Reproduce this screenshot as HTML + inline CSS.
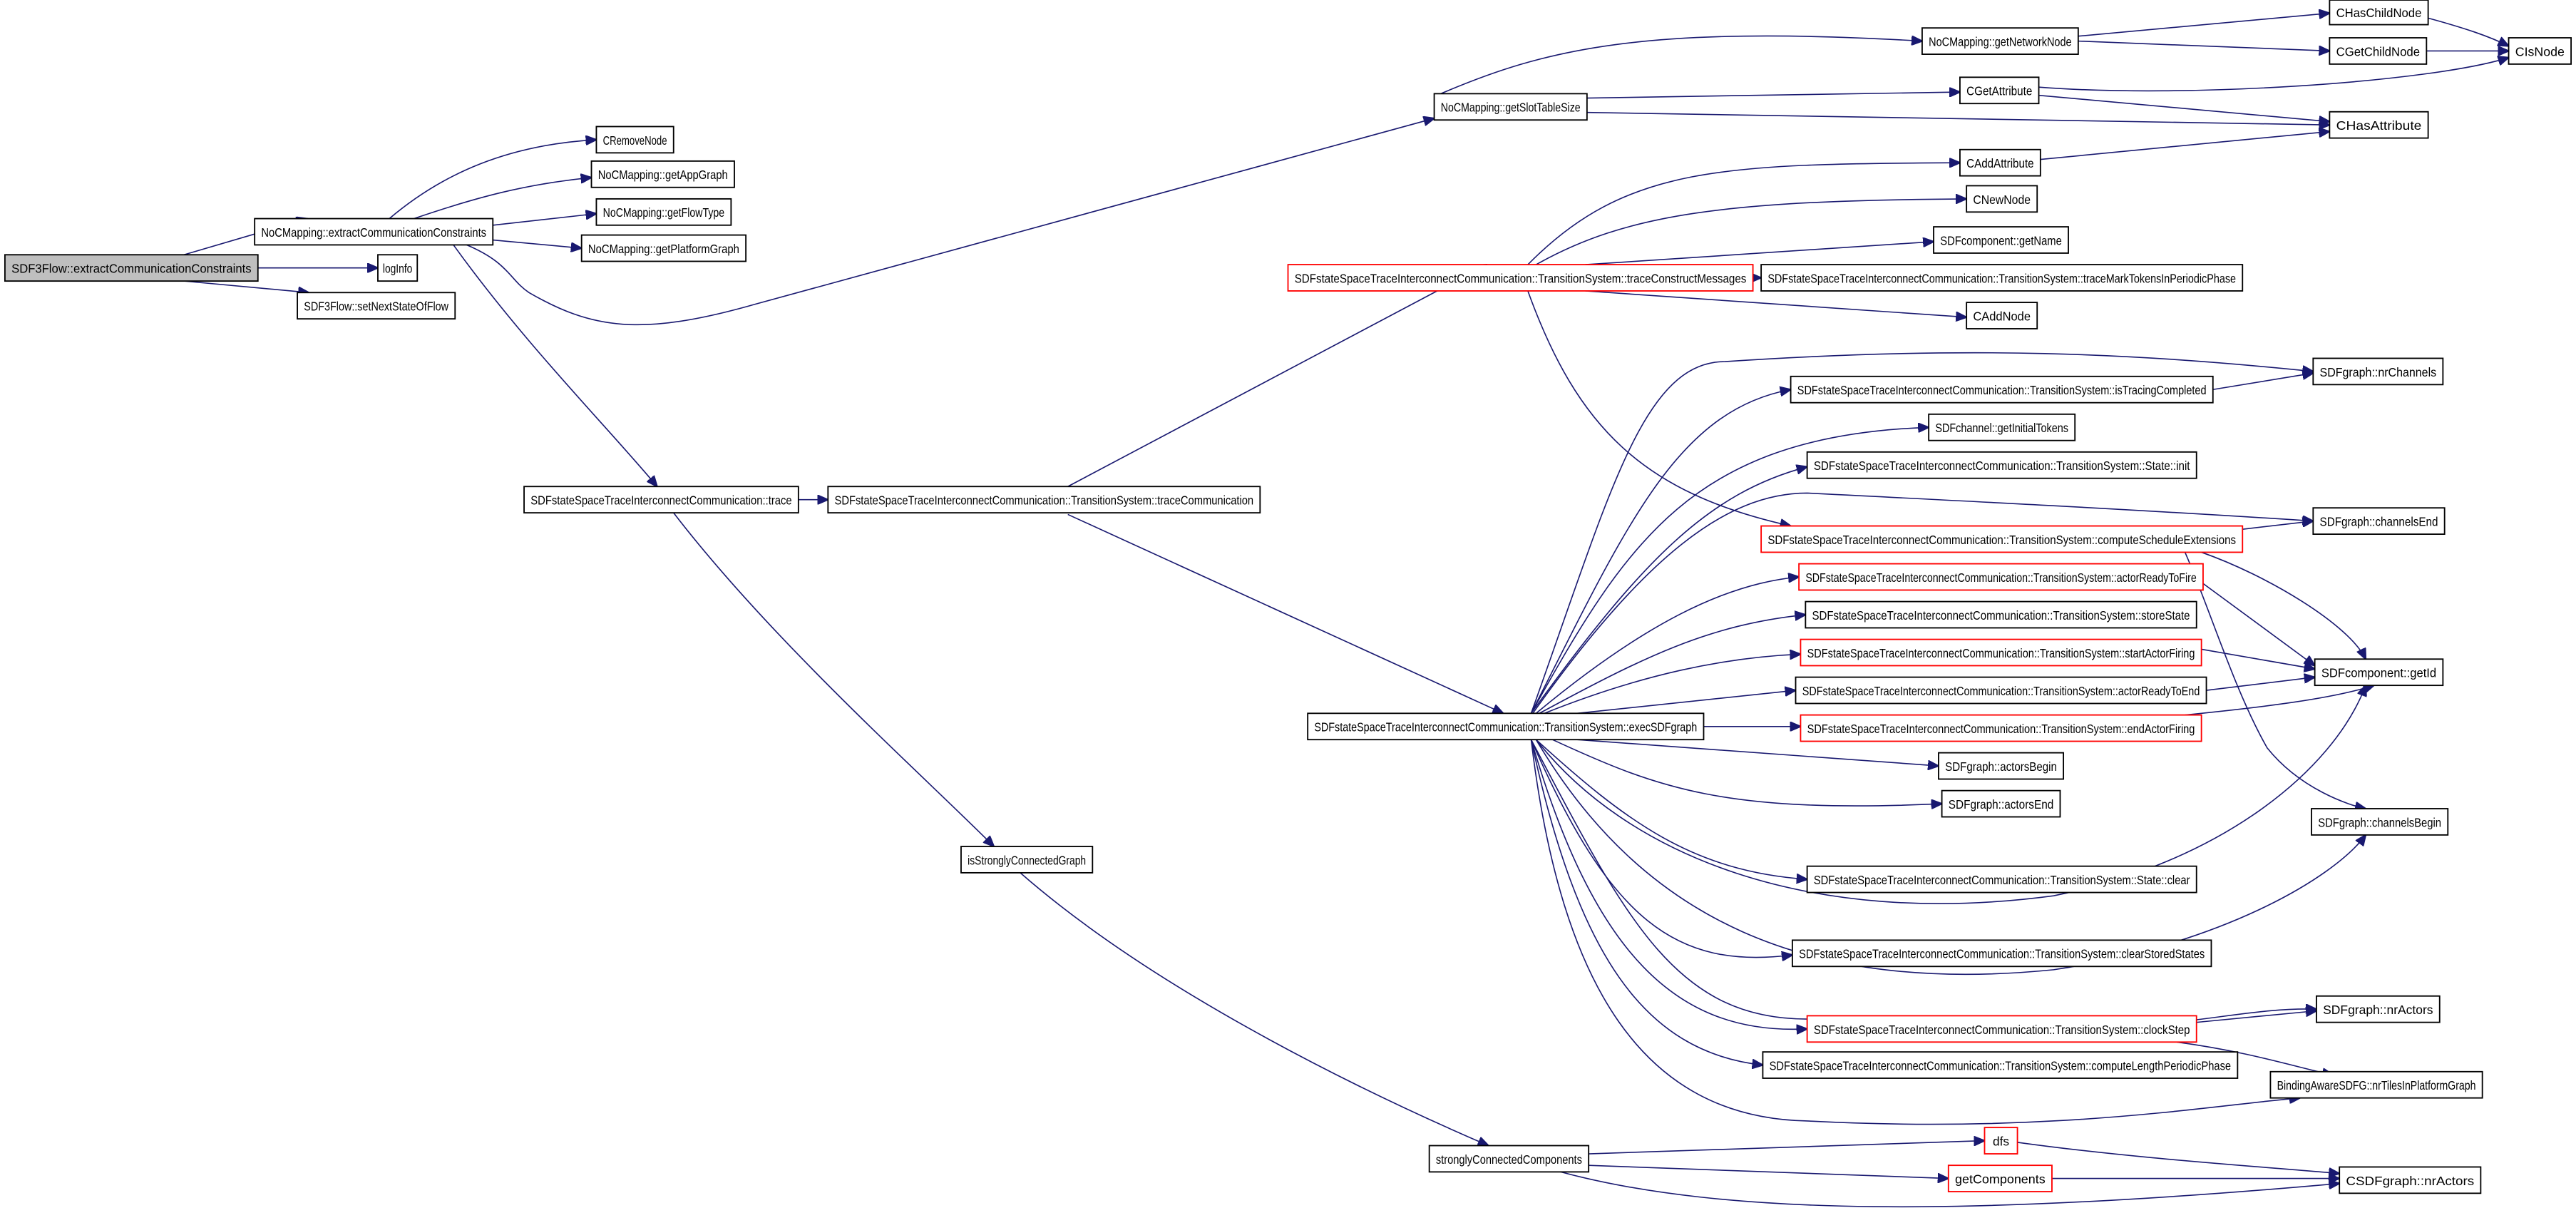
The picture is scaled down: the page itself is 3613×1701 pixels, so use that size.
<!DOCTYPE html>
<html><head><meta charset="utf-8"><style>
html,body{margin:0;padding:0;background:#fff;}
svg{display:block;}
text{font-family:"Liberation Sans",sans-serif;font-size:7.5px;fill:#000;}
.e{fill:none;stroke:#191970;stroke-width:0.7;}
rect{fill:#fff;stroke:#000;stroke-width:0.8;}
rect.r{stroke:#ff0000;}
rect.g{fill:#bfbfbf;}
</style></head><body>
<svg width="3613" height="1701" viewBox="0 0 1568 738" preserveAspectRatio="none" xmlns="http://www.w3.org/2000/svg">
<defs><marker id="a" markerWidth="7" markerHeight="6" refX="6.5" refY="3" orient="auto" markerUnits="userSpaceOnUse"><path d="M0,0 L7,3 L0,6 Z" fill="#191970" stroke="#191970" stroke-width="0.5"/></marker></defs>
<g marker-end="url(#a)">
<path class="e" d="M112,155 L187,133"/>
<path class="e" d="M137,163 L230,163"/>
<path class="e" d="M112,171 L188,178"/>
<path class="e" d="M237,133 C270,105 310,88 363,85"/>
<path class="e" d="M252,133 C290,120 320,112 360,108"/>
<path class="e" d="M300,137 L363,130"/>
<path class="e" d="M300,146 L354,151"/>
<path class="e" d="M284,149 C310,160 310,170 322,178 C360,200 390,205 460,185 L873,72"/>
<path class="e" d="M276,149 C320,210 370,260 400,296"/>
<path class="e" d="M877,57 C940,30 1000,15 1170,25"/>
<path class="e" d="M883,61 L1193,56"/>
<path class="e" d="M883,67 L1418,76"/>
<path class="e" d="M1265,22 L1418,8"/>
<path class="e" d="M1265,25 L1418,31"/>
<path class="e" d="M1478,11 C1500,17 1515,22 1527,28"/>
<path class="e" d="M1477,31 L1527,31"/>
<path class="e" d="M1241,53 C1330,60 1480,50 1527,35"/>
<path class="e" d="M1241,58 L1418,74"/>
<path class="e" d="M1242,97 L1418,80"/>
<path class="e" d="M486,304 L504,304"/>
<path class="e" d="M410,312 C470,390 560,470 605,515"/>
<path class="e" d="M621,531 C700,600 820,660 906,697"/>
<path class="e" d="M650,296 L905,161"/>
<path class="e" d="M650,313 L915,434"/>
<path class="e" d="M930,161 C990,100 1050,100 1193,99"/>
<path class="e" d="M935,161 C990,130 1050,122 1197,121"/>
<path class="e" d="M965,161 L1177,147"/>
<path class="e" d="M1067,169 L1072,169"/>
<path class="e" d="M965,177 L1197,193"/>
<path class="e" d="M930,177 C960,260 1000,300 1090,320"/>
<path class="e" d="M932,434 C980,300 1000,220 1050,220 C1200,210 1300,215 1408,226"/>
<path class="e" d="M932,434 C990,320 1020,250 1090,237"/>
<path class="e" d="M932,434 C990,330 1030,265 1174,260"/>
<path class="e" d="M932,434 C1000,340 1040,300 1100,284"/>
<path class="e" d="M933,434 C1000,340 1050,300 1100,300 C1200,305 1300,310 1408,317"/>
<path class="e" d="M935,434 C1000,380 1050,355 1095,351"/>
<path class="e" d="M937,434 C1000,400 1040,380 1099,374"/>
<path class="e" d="M940,434 C1000,410 1050,400 1096,398"/>
<path class="e" d="M960,434 L1093,420"/>
<path class="e" d="M1037,442 L1096,442"/>
<path class="e" d="M960,450 L1180,466"/>
<path class="e" d="M945,450 C1010,480 1050,495 1182,489"/>
<path class="e" d="M935,450 C990,520 1100,565 1250,545 C1350,525 1420,470 1440,417"/>
<path class="e" d="M935,450 C990,500 1030,530 1100,535"/>
<path class="e" d="M935,450 C1000,560 1100,605 1250,590 C1350,575 1420,535 1440,508"/>
<path class="e" d="M932,450 C980,560 1020,590 1091,581"/>
<path class="e" d="M932,450 C990,560 1020,620 1100,620 C1300,640 1350,612 1410,614"/>
<path class="e" d="M932,450 C970,580 1020,630 1100,626"/>
<path class="e" d="M932,450 C960,580 1000,640 1073,648"/>
<path class="e" d="M932,450 C950,600 1000,680 1100,682 C1250,690 1350,672 1400,668"/>
<path class="e" d="M1347,237 L1408,227"/>
<path class="e" d="M1365,322 L1408,317"/>
<path class="e" d="M1340,336 C1380,350 1430,380 1440,401"/>
<path class="e" d="M1330,336 C1345,370 1360,420 1380,455 C1400,480 1430,490 1440,492"/>
<path class="e" d="M1341,355 L1409,405"/>
<path class="e" d="M1340,395 L1409,407"/>
<path class="e" d="M1343,420 L1409,412"/>
<path class="e" d="M1330,435 C1380,430 1420,425 1445,417"/>
<path class="e" d="M1337,622 L1410,615"/>
<path class="e" d="M1325,634 C1370,640 1400,650 1420,654"/>
<path class="e" d="M967,702 L1208,694"/>
<path class="e" d="M967,709 L1186,717"/>
<path class="e" d="M950,713 C1050,740 1200,740 1424,720"/>
<path class="e" d="M1228,695 C1300,705 1380,710 1424,714"/>
<path class="e" d="M1249,717 L1424,717"/>
</g>
<g>
<rect class="g" x="3" y="155" width="154" height="16"/><text x="80" y="166" text-anchor="middle" textLength="146" lengthAdjust="spacingAndGlyphs">SDF3Flow::extractCommunicationConstraints</text>
<rect x="155" y="133" width="145" height="16"/><text x="227.5" y="144" text-anchor="middle" textLength="137" lengthAdjust="spacingAndGlyphs">NoCMapping::extractCommunicationConstraints</text>
<rect x="230" y="155" width="24" height="16"/><text x="242" y="166" text-anchor="middle" textLength="18" lengthAdjust="spacingAndGlyphs">logInfo</text>
<rect x="181" y="178" width="96" height="16"/><text x="229" y="189" text-anchor="middle" textLength="88" lengthAdjust="spacingAndGlyphs">SDF3Flow::setNextStateOfFlow</text>
<rect x="363" y="77" width="47" height="16"/><text x="386.5" y="88" text-anchor="middle" textLength="39" lengthAdjust="spacingAndGlyphs">CRemoveNode</text>
<rect x="360" y="98" width="87" height="16"/><text x="403.5" y="109" text-anchor="middle" textLength="79" lengthAdjust="spacingAndGlyphs">NoCMapping::getAppGraph</text>
<rect x="363" y="121" width="82" height="16"/><text x="404" y="132" text-anchor="middle" textLength="74" lengthAdjust="spacingAndGlyphs">NoCMapping::getFlowType</text>
<rect x="354" y="143" width="100" height="16"/><text x="404" y="154" text-anchor="middle" textLength="92" lengthAdjust="spacingAndGlyphs">NoCMapping::getPlatformGraph</text>
<rect x="873" y="57" width="93" height="16"/><text x="919.5" y="68" text-anchor="middle" textLength="85" lengthAdjust="spacingAndGlyphs">NoCMapping::getSlotTableSize</text>
<rect x="319" y="296" width="167" height="16"/><text x="402.5" y="307" text-anchor="middle" textLength="159" lengthAdjust="spacingAndGlyphs">SDFstateSpaceTraceInterconnectCommunication::trace</text>
<rect x="504" y="296" width="263" height="16"/><text x="635.5" y="307" text-anchor="middle" textLength="255" lengthAdjust="spacingAndGlyphs">SDFstateSpaceTraceInterconnectCommunication::TransitionSystem::traceCommunication</text>
<rect class="r" x="784" y="161" width="283" height="16"/><text x="925.5" y="172" text-anchor="middle" textLength="275" lengthAdjust="spacingAndGlyphs">SDFstateSpaceTraceInterconnectCommunication::TransitionSystem::traceConstructMessages</text>
<rect x="796" y="434" width="241" height="16"/><text x="916.5" y="445" text-anchor="middle" textLength="233" lengthAdjust="spacingAndGlyphs">SDFstateSpaceTraceInterconnectCommunication::TransitionSystem::execSDFgraph</text>
<rect x="585" y="515" width="80" height="16"/><text x="625" y="526" text-anchor="middle" textLength="72" lengthAdjust="spacingAndGlyphs">isStronglyConnectedGraph</text>
<rect x="870" y="697" width="97" height="16"/><text x="918.5" y="708" text-anchor="middle" textLength="89" lengthAdjust="spacingAndGlyphs">stronglyConnectedComponents</text>
<rect x="1170" y="17" width="95" height="16"/><text x="1217.5" y="28" text-anchor="middle" textLength="87" lengthAdjust="spacingAndGlyphs">NoCMapping::getNetworkNode</text>
<rect x="1193" y="47" width="48" height="16"/><text x="1217" y="58" text-anchor="middle" textLength="40" lengthAdjust="spacingAndGlyphs">CGetAttribute</text>
<rect x="1418" y="0" width="60" height="15"/><text x="1448" y="10.5" text-anchor="middle" textLength="52" lengthAdjust="spacingAndGlyphs">CHasChildNode</text>
<rect x="1418" y="23" width="59" height="16"/><text x="1447.5" y="34" text-anchor="middle" textLength="51" lengthAdjust="spacingAndGlyphs">CGetChildNode</text>
<rect x="1527" y="23" width="38" height="16"/><text x="1546" y="34" text-anchor="middle" textLength="30" lengthAdjust="spacingAndGlyphs">CIsNode</text>
<rect x="1418" y="68" width="60" height="16"/><text x="1448" y="79" text-anchor="middle" textLength="52" lengthAdjust="spacingAndGlyphs">CHasAttribute</text>
<rect x="1193" y="91" width="49" height="16"/><text x="1217.5" y="102" text-anchor="middle" textLength="41" lengthAdjust="spacingAndGlyphs">CAddAttribute</text>
<rect x="1197" y="113" width="43" height="16"/><text x="1218.5" y="124" text-anchor="middle" textLength="35" lengthAdjust="spacingAndGlyphs">CNewNode</text>
<rect x="1177" y="138" width="82" height="16"/><text x="1218" y="149" text-anchor="middle" textLength="74" lengthAdjust="spacingAndGlyphs">SDFcomponent::getName</text>
<rect x="1072" y="161" width="293" height="16"/><text x="1218.5" y="172" text-anchor="middle" textLength="285" lengthAdjust="spacingAndGlyphs">SDFstateSpaceTraceInterconnectCommunication::TransitionSystem::traceMarkTokensInPeriodicPhase</text>
<rect x="1197" y="184" width="43" height="16"/><text x="1218.5" y="195" text-anchor="middle" textLength="35" lengthAdjust="spacingAndGlyphs">CAddNode</text>
<rect x="1090" y="229" width="257" height="16"/><text x="1218.5" y="240" text-anchor="middle" textLength="249" lengthAdjust="spacingAndGlyphs">SDFstateSpaceTraceInterconnectCommunication::TransitionSystem::isTracingCompleted</text>
<rect x="1174" y="252" width="89" height="16"/><text x="1218.5" y="263" text-anchor="middle" textLength="81" lengthAdjust="spacingAndGlyphs">SDFchannel::getInitialTokens</text>
<rect x="1100" y="275" width="237" height="16"/><text x="1218.5" y="286" text-anchor="middle" textLength="229" lengthAdjust="spacingAndGlyphs">SDFstateSpaceTraceInterconnectCommunication::TransitionSystem::State::init</text>
<rect class="r" x="1072" y="320" width="293" height="16"/><text x="1218.5" y="331" text-anchor="middle" textLength="285" lengthAdjust="spacingAndGlyphs">SDFstateSpaceTraceInterconnectCommunication::TransitionSystem::computeScheduleExtensions</text>
<rect class="r" x="1095" y="343" width="246" height="16"/><text x="1218" y="354" text-anchor="middle" textLength="238" lengthAdjust="spacingAndGlyphs">SDFstateSpaceTraceInterconnectCommunication::TransitionSystem::actorReadyToFire</text>
<rect x="1099" y="366" width="238" height="16"/><text x="1218" y="377" text-anchor="middle" textLength="230" lengthAdjust="spacingAndGlyphs">SDFstateSpaceTraceInterconnectCommunication::TransitionSystem::storeState</text>
<rect class="r" x="1096" y="389" width="244" height="16"/><text x="1218" y="400" text-anchor="middle" textLength="236" lengthAdjust="spacingAndGlyphs">SDFstateSpaceTraceInterconnectCommunication::TransitionSystem::startActorFiring</text>
<rect x="1093" y="412" width="250" height="16"/><text x="1218" y="423" text-anchor="middle" textLength="242" lengthAdjust="spacingAndGlyphs">SDFstateSpaceTraceInterconnectCommunication::TransitionSystem::actorReadyToEnd</text>
<rect class="r" x="1096" y="435" width="244" height="16"/><text x="1218" y="446" text-anchor="middle" textLength="236" lengthAdjust="spacingAndGlyphs">SDFstateSpaceTraceInterconnectCommunication::TransitionSystem::endActorFiring</text>
<rect x="1180" y="458" width="76" height="16"/><text x="1218" y="469" text-anchor="middle" textLength="68" lengthAdjust="spacingAndGlyphs">SDFgraph::actorsBegin</text>
<rect x="1182" y="481" width="72" height="16"/><text x="1218" y="492" text-anchor="middle" textLength="64" lengthAdjust="spacingAndGlyphs">SDFgraph::actorsEnd</text>
<rect x="1100" y="527" width="237" height="16"/><text x="1218.5" y="538" text-anchor="middle" textLength="229" lengthAdjust="spacingAndGlyphs">SDFstateSpaceTraceInterconnectCommunication::TransitionSystem::State::clear</text>
<rect x="1091" y="572" width="255" height="16"/><text x="1218.5" y="583" text-anchor="middle" textLength="247" lengthAdjust="spacingAndGlyphs">SDFstateSpaceTraceInterconnectCommunication::TransitionSystem::clearStoredStates</text>
<rect class="r" x="1100" y="618" width="237" height="16"/><text x="1218.5" y="629" text-anchor="middle" textLength="229" lengthAdjust="spacingAndGlyphs">SDFstateSpaceTraceInterconnectCommunication::TransitionSystem::clockStep</text>
<rect x="1073" y="640" width="289" height="16"/><text x="1217.5" y="651" text-anchor="middle" textLength="281" lengthAdjust="spacingAndGlyphs">SDFstateSpaceTraceInterconnectCommunication::TransitionSystem::computeLengthPeriodicPhase</text>
<rect x="1408" y="218" width="79" height="16"/><text x="1447.5" y="229" text-anchor="middle" textLength="71" lengthAdjust="spacingAndGlyphs">SDFgraph::nrChannels</text>
<rect x="1408" y="309" width="80" height="16"/><text x="1448" y="320" text-anchor="middle" textLength="72" lengthAdjust="spacingAndGlyphs">SDFgraph::channelsEnd</text>
<rect x="1409" y="401" width="78" height="16"/><text x="1448" y="412" text-anchor="middle" textLength="70" lengthAdjust="spacingAndGlyphs">SDFcomponent::getId</text>
<rect x="1407" y="492" width="83" height="16"/><text x="1448.5" y="503" text-anchor="middle" textLength="75" lengthAdjust="spacingAndGlyphs">SDFgraph::channelsBegin</text>
<rect x="1410" y="606" width="75" height="16"/><text x="1447.5" y="617" text-anchor="middle" textLength="67" lengthAdjust="spacingAndGlyphs">SDFgraph::nrActors</text>
<rect x="1382" y="652" width="129" height="16"/><text x="1446.5" y="663" text-anchor="middle" textLength="121" lengthAdjust="spacingAndGlyphs">BindingAwareSDFG::nrTilesInPlatformGraph</text>
<rect x="1424" y="710" width="86" height="16"/><text x="1467" y="721" text-anchor="middle" textLength="78" lengthAdjust="spacingAndGlyphs">CSDFgraph::nrActors</text>
<rect class="r" x="1208" y="686" width="20" height="16"/><text x="1218" y="697" text-anchor="middle" textLength="10" lengthAdjust="spacingAndGlyphs">dfs</text>
<rect class="r" x="1186" y="709" width="63" height="16"/><text x="1217.5" y="720" text-anchor="middle" textLength="55" lengthAdjust="spacingAndGlyphs">getComponents</text>
</g>
</svg>
</body></html>
